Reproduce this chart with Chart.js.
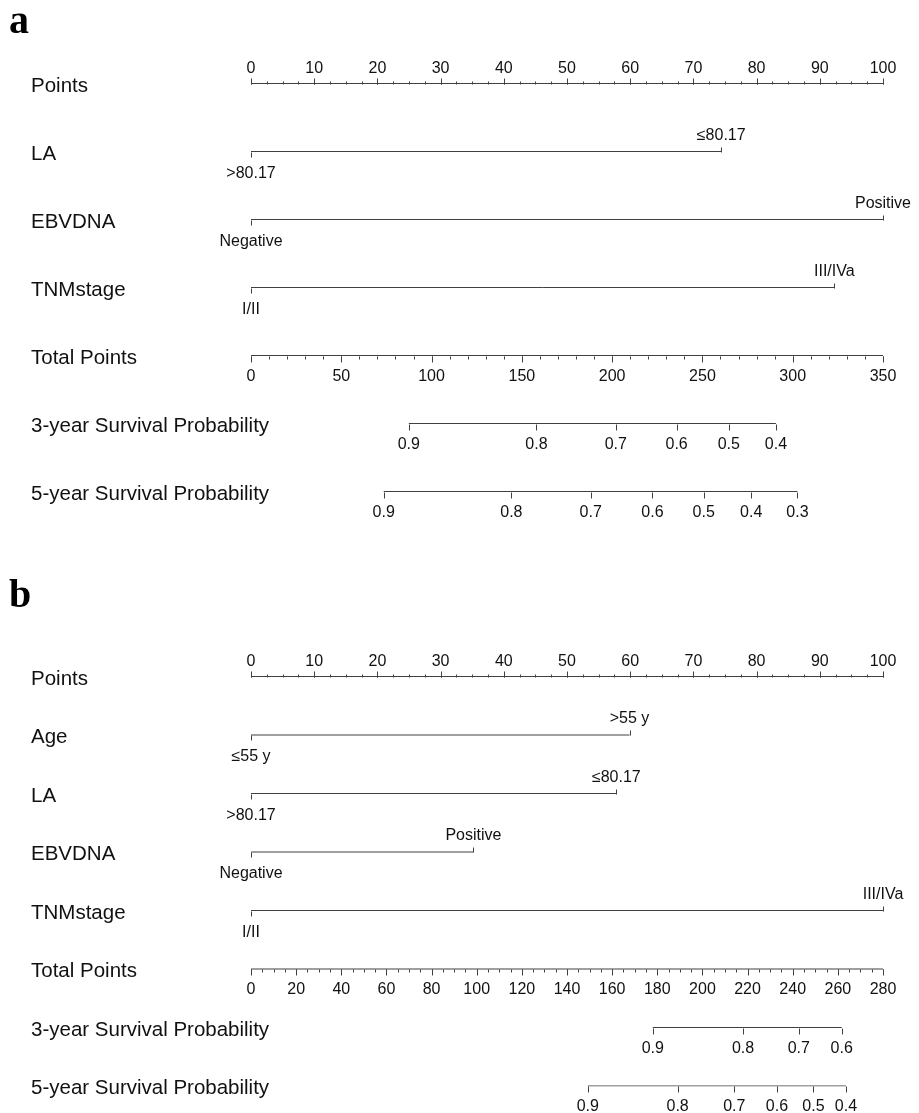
<!DOCTYPE html>
<html>
<head>
<meta charset="utf-8">
<script src="https://cdn.jsdelivr.net/npm/chart.js@4.4.1/dist/chart.umd.min.js"></script>
<style>
  html, body { margin: 0; padding: 0; background: #fff; }
  body { width: 919px; height: 1113px; position: relative; overflow: hidden; }
  .panel { position: absolute; left: 0; width: 919px; }
  #panelA { top: 0; height: 560px; }
  #panelB { top: 560px; height: 553px; }
  .tag { position: absolute; left: 9px; font: bold 40px 'Liberation Serif', 'DejaVu Serif', serif; line-height: 40px; color: #000; z-index: 2; }
</style>
</head>
<body>
<div class="tag" style="top:0px">a</div>
<div class="tag" style="top:574px">b</div>
<div class="panel" id="panelA"><canvas id="chartA"></canvas></div>
<div class="panel" id="panelB"><canvas id="chartB"></canvas></div>
<script>
// ---- Panel a data ----
const rowsA = ['Points', 'LA', 'EBVDNA', 'TNMstage', 'Total Points',
    '3-year Survival Probability', '5-year Survival Probability'];
const pointTicks = [0, 10, 20, 30, 40, 50, 60, 70, 80, 90, 100];

const laLevelsA = ['>80.17', '≤80.17'];
const laPointsA = [0, 74.4];
const ebvLevelsA = ['Negative', 'Positive'];
const ebvPointsA = [0, 100];
const tnmLevelsA = ['I/II', 'III/IVa'];
const tnmPointsA = [0, 92.3];

const totalTicksA = [0, 50, 100, 150, 200, 250, 300, 350];
const surv3LabelsA = ['0.9', '0.8', '0.7', '0.6', '0.5', '0.4'];
const surv3TotalsA = [87.4, 158.1, 202.0, 235.7, 264.6, 290.7];
const surv5LabelsA = ['0.9', '0.8', '0.7', '0.6', '0.5', '0.4', '0.3'];
const surv5TotalsA = [73.5, 144.2, 188.1, 222.3, 250.7, 277.0, 302.6];

// ---- Panel b data ----
const rowsB = ['Points', 'Age', 'LA', 'EBVDNA', 'TNMstage', 'Total Points',
    '3-year Survival Probability', '5-year Survival Probability'];

const ageLevelsB = ['≤55 y', '>55 y'];
const agePointsB = [0, 59.9];
const laLevelsB = ['>80.17', '≤80.17'];
const laPointsB = [0, 57.8];
const ebvLevelsB = ['Negative', 'Positive'];
const ebvPointsB = [0, 35.2];
const tnmLevelsB = ['I/II', 'III/IVa'];
const tnmPointsB = [0, 100];

const totalTicksB = [0, 20, 40, 60, 80, 100, 120, 140, 160, 180, 200, 220, 240, 260, 280];
const surv3LabelsB = ['0.9', '0.8', '0.7', '0.6'];
const surv3TotalsB = [178.0, 218.0, 242.7, 261.7];
const surv5LabelsB = ['0.9', '0.8', '0.7', '0.6', '0.5', '0.4'];
const surv5TotalsB = [149.2, 189.0, 214.1, 233.0, 249.2, 263.6];

const LINE = '#404040';
const TEXT = '#111';
const TICK_FONT = '16px "Liberation Sans", Arial, sans-serif';

// Draws ticks and value labels for every row, through the chart scales
const nomogramPlugin = {
    id: 'nomogram',
    afterDatasetsDraw(chart, args, opts) {
        const ctx = chart.ctx;
        const xs = chart.scales.x;
        const ys = chart.scales.y;
        const px = v => Math.round(xs.getPixelForValue(v)) + 0.5;
        const py = row => Math.round(ys.getPixelForValue(opts.rows.indexOf(row))) + 0.5;
        const tick = (x, y, len) => {
            ctx.beginPath();
            ctx.moveTo(x, y);
            ctx.lineTo(x, y + len);
            ctx.stroke();
        };

        ctx.save();
        ctx.strokeStyle = LINE;
        ctx.lineWidth = 1;
        ctx.fillStyle = TEXT;
        ctx.font = TICK_FONT;
        ctx.textAlign = 'center';
        ctx.textBaseline = 'middle';

        // Points axis: ticks upward, labels above
        const p = opts.points;
        let y = py(p.row);
        for (let v = 0; v <= 100.001; v += p.minor) tick(px(v), y, -3);
        p.ticks.forEach(v => {
            tick(px(v), y, -6);
            ctx.fillText(String(v), xs.getPixelForValue(v), y - 15.5);
        });

        // Factor rows: first level below the left end, second above the right end
        opts.factors.forEach(f => {
            y = py(f.row);
            f.pts.forEach((v, i) => {
                const down = i % 2 === 0;
                tick(px(v), y, down ? 5 : -5);
                ctx.fillText(f.levels[i], xs.getPixelForValue(v), down ? y + 21 : y - 17);
            });
        });

        // Total points axis: ticks downward, labels below
        const t = opts.total;
        const tmax = t.ticks[t.ticks.length - 1];
        y = py(t.row);
        for (let v = 0; v <= tmax + 0.001; v += t.minor) tick(px(v * 100 / tmax), y, 3);
        t.ticks.forEach(v => {
            tick(px(v * 100 / tmax), y, 6);
            ctx.fillText(String(v), xs.getPixelForValue(v * 100 / tmax), y + 20);
        });

        // Survival probability axes
        opts.surv.forEach(s => {
            y = py(s.row);
            s.totals.forEach((v, i) => {
                tick(px(v * 100 / tmax), y, 6);
                ctx.fillText(s.labels[i], xs.getPixelForValue(v * 100 / tmax), y + 20);
            });
        });
        ctx.restore();
    }
};

function rowLine(row, from, to) {
    return {
        data: [{ x: from, y: row }, { x: to, y: row }],
        borderColor: LINE,
        borderWidth: 1,
        pointRadius: 0,
        fill: false,
        tension: 0
    };
}

function buildPanel(canvasId, spec, padTop, padBottom) {
    const tmax = spec.total.ticks[spec.total.ticks.length - 1];
    const datasets = [rowLine(spec.points.row, 0, 100)];
    spec.factors.forEach(f => datasets.push(rowLine(f.row, Math.min(...f.pts), Math.max(...f.pts))));
    datasets.push(rowLine(spec.total.row, 0, 100));
    spec.surv.forEach(s => datasets.push(rowLine(s.row,
        Math.min(...s.totals) * 100 / tmax, Math.max(...s.totals) * 100 / tmax)));

    return new Chart(document.getElementById(canvasId), {
        type: 'line',
        data: { datasets: datasets },
        options: {
            responsive: true,
            maintainAspectRatio: false,
            animation: false,
            layout: { padding: { left: 31, right: 36, top: padTop, bottom: padBottom } },
            plugins: {
                legend: { display: false },
                tooltip: { enabled: false },
                nomogram: spec
            },
            scales: {
                x: { type: 'linear', min: 0, max: 100, display: false },
                y: {
                    type: 'category',
                    labels: spec.rows,
                    offset: false,
                    grid: { display: false },
                    border: { display: false },
                    ticks: {
                        autoSkip: false,
                        mirror: true,
                        padding: -220,
                        labelOffset: 2.5,
                        color: TEXT,
                        font: { family: '"Liberation Sans", Arial, sans-serif', size: 20.5 }
                    },
                    afterFit(scale) { scale.width = 220; }
                }
            }
        },
        plugins: [nomogramPlugin]
    });
}

buildPanel('chartA', {
    rows: rowsA,
    points: { row: 'Points', ticks: pointTicks, minor: 2.5 },
    factors: [
        { row: 'LA', levels: laLevelsA, pts: laPointsA },
        { row: 'EBVDNA', levels: ebvLevelsA, pts: ebvPointsA },
        { row: 'TNMstage', levels: tnmLevelsA, pts: tnmPointsA }
    ],
    total: { row: 'Total Points', ticks: totalTicksA, minor: 10 },
    surv: [
        { row: '3-year Survival Probability', labels: surv3LabelsA, totals: surv3TotalsA },
        { row: '5-year Survival Probability', labels: surv5LabelsA, totals: surv5TotalsA }
    ]
}, 83.5, 68.5);

buildPanel('chartB', {
    rows: rowsB,
    points: { row: 'Points', ticks: pointTicks, minor: 2.5 },
    factors: [
        { row: 'Age', levels: ageLevelsB, pts: agePointsB },
        { row: 'LA', levels: laLevelsB, pts: laPointsB },
        { row: 'EBVDNA', levels: ebvLevelsB, pts: ebvPointsB },
        { row: 'TNMstage', levels: tnmLevelsB, pts: tnmPointsB }
    ],
    total: { row: 'Total Points', ticks: totalTicksB, minor: 5 },
    surv: [
        { row: '3-year Survival Probability', labels: surv3LabelsB, totals: surv3TotalsB },
        { row: '5-year Survival Probability', labels: surv5LabelsB, totals: surv5TotalsB }
    ]
}, 116.5, 27);
</script>
</body>
</html>
